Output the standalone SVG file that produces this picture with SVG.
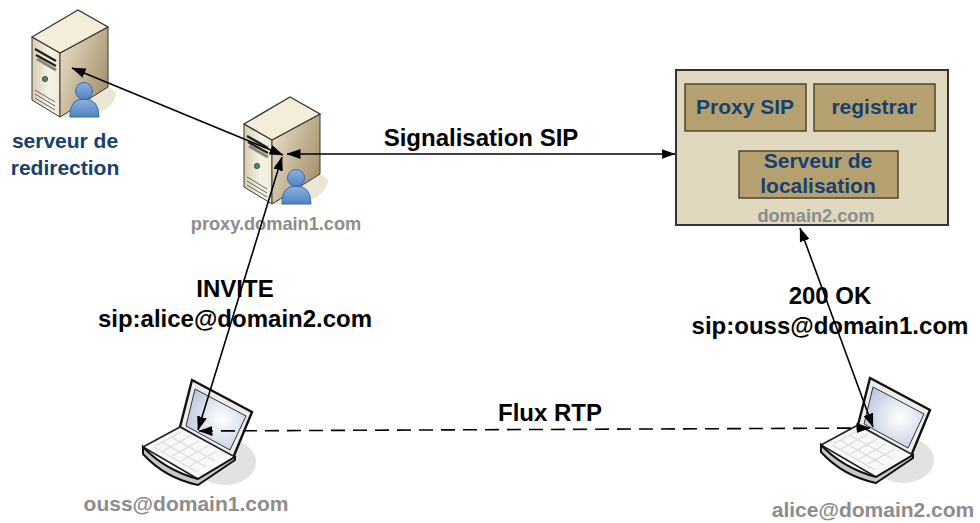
<svg xmlns="http://www.w3.org/2000/svg" width="980" height="523" viewBox="0 0 980 523">
<style>
text{font-family:"Liberation Sans",Arial,sans-serif;font-weight:bold;text-anchor:middle}
.k{font-size:24px;fill:#000}
.g{font-size:18.2px;fill:#8c8c8c}
.gl{font-size:21px;fill:#8c8c8c}
.b{font-size:21px;fill:#17406f}
.c{stroke:#000;stroke-width:1.6;fill:none}
.box{fill:#b5a06f;stroke:#50462e;stroke-width:1.5}
</style>
<defs>
<linearGradient id="sf" x1="0" y1="0" x2="1" y2="0"><stop offset="0" stop-color="#d6ccb0"/><stop offset=".6" stop-color="#f6f2e6"/><stop offset="1" stop-color="#efe8d6"/></linearGradient>
<linearGradient id="sr" x1="0" y1="0" x2="1" y2=".6"><stop offset="0" stop-color="#ece3cd"/><stop offset="1" stop-color="#a8946f"/></linearGradient>
<linearGradient id="pb" x1="0" y1="0" x2="0" y2="1"><stop offset="0" stop-color="#8db2e0"/><stop offset="1" stop-color="#4f82c0"/></linearGradient>
<radialGradient id="scr" cx=".6" cy=".5" r=".7"><stop offset="0" stop-color="#fff"/><stop offset="1" stop-color="#b4c2dc"/></radialGradient>
<marker id="a" viewBox="0 0 14 10" refX="13.5" refY="5" markerWidth="14" markerHeight="10" markerUnits="userSpaceOnUse" orient="auto-start-reverse"><path d="M0 0L14 5L0 10z" fill="#000"/></marker>
<g id="srv">
<path d="M60 117L108 87L116 92Q116 106 96 114L72 118z" fill="#ece6d6"/>
<path d="M32 37L60 53V117L32 100z" fill="url(#sf)" stroke="#3a3a30" stroke-width="1"/>
<path d="M60 53L108 27V87L60 117z" fill="url(#sr)" stroke="#3a3a30" stroke-width="1"/>
<path d="M32 37L78 10L108 27L60 53z" fill="#f3edd9" stroke="#3a3a30" stroke-width="1.4"/>
<path d="M35 49L56 61M36 55L56 66" stroke="#222" stroke-width="2.4"/>
<path d="M37 59L56 70" stroke="#8a8470" stroke-width="3"/>
<circle cx="45" cy="79" r="2.6" fill="#4c8a70" stroke="#333" stroke-width=".8"/>
<path d="M35 90L55 102M35 94L55 106M35 98L55 110" stroke="#666" stroke-width="1"/>
<path d="M70 117Q69 99 84 99Q99 99 99 117Z" fill="url(#pb)" stroke="#3a6ba5" stroke-width="1"/>
<circle cx="84" cy="91" r="8.5" fill="url(#pb)" stroke="#3a6ba5" stroke-width="1"/>
</g>
<g id="lap">
<ellipse cx="225" cy="462" rx="31" ry="23" fill="#e2e2e2"/>
<path d="M180 427L192 380L252 412L233 458z" fill="#ececec" stroke="#111" stroke-width="2.4"/>
<path d="M186 426L195 389L246 416L230 450z" fill="url(#scr)" stroke="#333" stroke-width="1"/>
<path d="M143 447L180 427L235 457L198 479z" fill="#f8f8f8" stroke="#222" stroke-width="1.6"/>
<path d="M143 447V454Q165 478 198 485L235 460V457L198 479Q165 470 143 447z" fill="#c8c8c8" stroke="#111" stroke-width="2"/>
<path d="M155 446L181 432M163 451L190 436M172 456L199 441M181 461L208 446M190 466L217 451M171 437L215 461M162 442L206 467M154 447L197 472" stroke="#dcdcdc" stroke-width="1.4"/>
</g>
</defs>
<rect width="980" height="523" fill="#fff"/>
<g id="serveur-redirection">
<use href="#srv"/>
<text class="b"><tspan x="65" y="148">serveur de</tspan><tspan x="65" y="175">redirection</tspan></text>
</g>
<g id="proxy-domain1">
<use href="#srv" transform="translate(212 87)"/>
<text class="g" x="276" y="230">proxy.domain1.com</text>
</g>
<g id="domain2">
<rect x="676" y="70" width="272" height="155" fill="#e0d8bf" stroke="#333" stroke-width="2"/>
<text class="g" x="816" y="222">domain2.com</text>
<g id="proxy-sip"><rect class="box" x="685" y="84" width="121" height="47"/><text class="b" x="745" y="114">Proxy SIP</text></g>
<g id="registrar"><rect class="box" x="814" y="84" width="121" height="47"/><text class="b" x="874" y="114">registrar</text></g>
<g id="serveur-localisation"><rect class="box" x="739" y="151" width="159" height="47"/><text class="b"><tspan x="818" y="168">Serveur de</tspan><tspan x="818" y="193">localisation</tspan></text></g>
</g>
<g id="laptop-ouss">
<use href="#lap"/>
<text class="gl" x="186" y="511">ouss@domain1.com</text>
</g>
<g id="laptop-alice">
<use href="#lap" transform="translate(678 -2)"/>
<text class="gl" x="873" y="517">alice@domain2.com</text>
</g>
<g id="connectors">
<path class="c" d="M72 68L283 155" marker-start="url(#a)" marker-end="url(#a)"/>
<path class="c" d="M287 154H675" marker-start="url(#a)" marker-end="url(#a)"/>
<path class="c" d="M282 157L198 430" marker-start="url(#a)" marker-end="url(#a)"/>
<path class="c" d="M800 228L873 427" marker-start="url(#a)" marker-end="url(#a)"/>
<path class="c" d="M199 431L870 428" stroke-dasharray="14 8" marker-start="url(#a)" marker-end="url(#a)"/>
</g>
<g id="labels">
<text class="k" x="481" y="146">Signalisation SIP</text>
<text class="k"><tspan x="235" y="297">INVITE</tspan><tspan x="235" y="327">sip:alice@domain2.com</tspan></text>
<text class="k"><tspan x="830" y="304">200 OK</tspan><tspan x="830" y="334">sip:ouss@domain1.com</tspan></text>
<text class="k" x="550" y="421">Flux RTP</text>
</g>
</svg>
